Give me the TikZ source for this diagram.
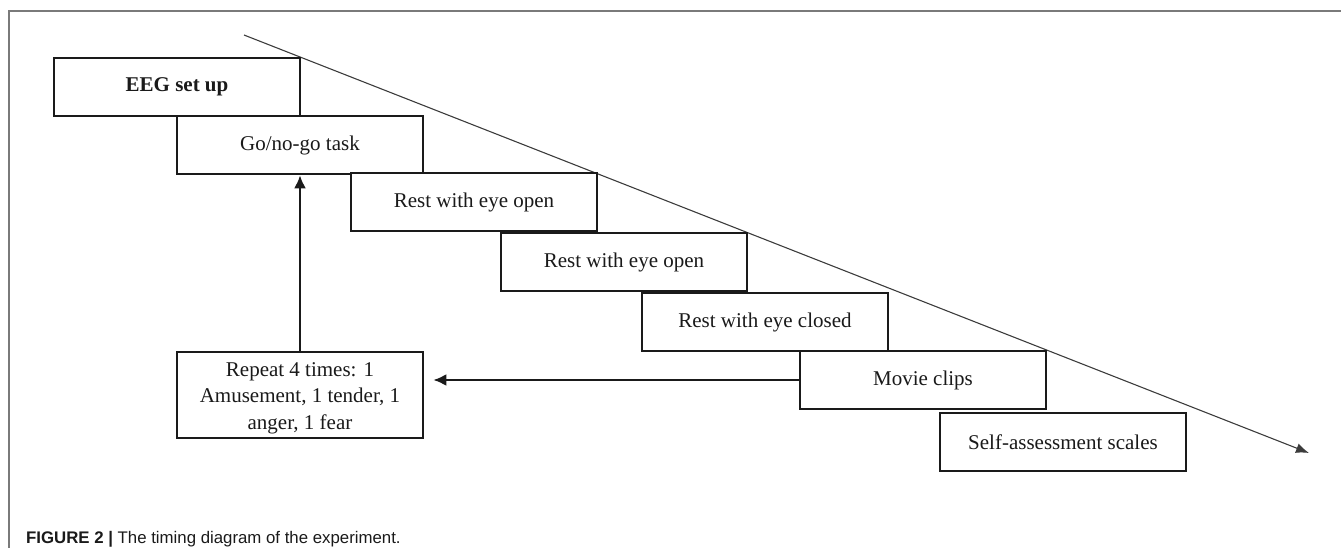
\documentclass[tikz,border=0pt]{standalone}
\usepackage{fontspec}
\setmainfont{Liberation Serif}
\newfontfamily\capfont{Liberation Sans}
\usetikzlibrary{arrows.meta}
\definecolor{ink}{HTML}{1A1A1A}
\definecolor{framegray}{HTML}{7A7A7A}
\begin{document}
\begin{tikzpicture}[x=1pt,y=-1pt,
  stepbox/.style={draw=ink, line width=2.6pt, fill=white, minimum width=246pt, minimum height=58pt,
    inner sep=0pt, text=ink, font=\fontsize{21}{26}\selectfont, align=center},
  flowarrow/.style={draw=ink, line width=2.4pt, -{Latex[length=13pt,width=12pt]}},
  timearrow/.style={draw=ink!85, line width=1.1pt, -{Latex[length=13pt,width=10pt]}}]
\useasboundingbox (0,0) rectangle (1341,548);
% frame
\draw[framegray, line width=1.5pt] (9,548) -- (9,11) -- (1341,11);
% time axis
\coordinate (ts) at (244,35);
\coordinate (te) at (1309,453);
\draw[timearrow] (ts) -- (te);
% steps
\node[stepbox] (eeg) at (177,87) {\textbf{EEG set up}};
\node[stepbox] (go) at (300,145) {Go/no-go task};
\node[stepbox] (ro1) at (474,202) {Rest with eye open};
\node[stepbox] (ro2) at (624,262) {Rest with eye open};
\node[stepbox] (rc) at (765,322) {Rest with eye closed};
\node[stepbox] (mov) at (923,380) {Movie clips};
\node[stepbox] (sas) at (1063,442) {Self-assessment scales};
\node[stepbox, minimum height=86pt, font=\fontsize{21}{26.5}\selectfont] (rep) at (300,395) {\rule{0pt}{20pt}Repeat 4 times: 1\\Amusement, 1 tender, 1\\anger, 1 fear};
% connectors
\draw[flowarrow] (rep.north) -- (go.south);
\draw[flowarrow] (mov.west) -- ([xshift=9pt]rep.east |- mov.west);
% caption
\node[anchor=west, inner sep=0pt, text=ink, font=\capfont\fontsize{16.8}{20}\selectfont] (cap) at (26,539)
  {\textbf{FIGURE 2 |} The timing diagram of the experiment.};
\end{tikzpicture}
\end{document}
